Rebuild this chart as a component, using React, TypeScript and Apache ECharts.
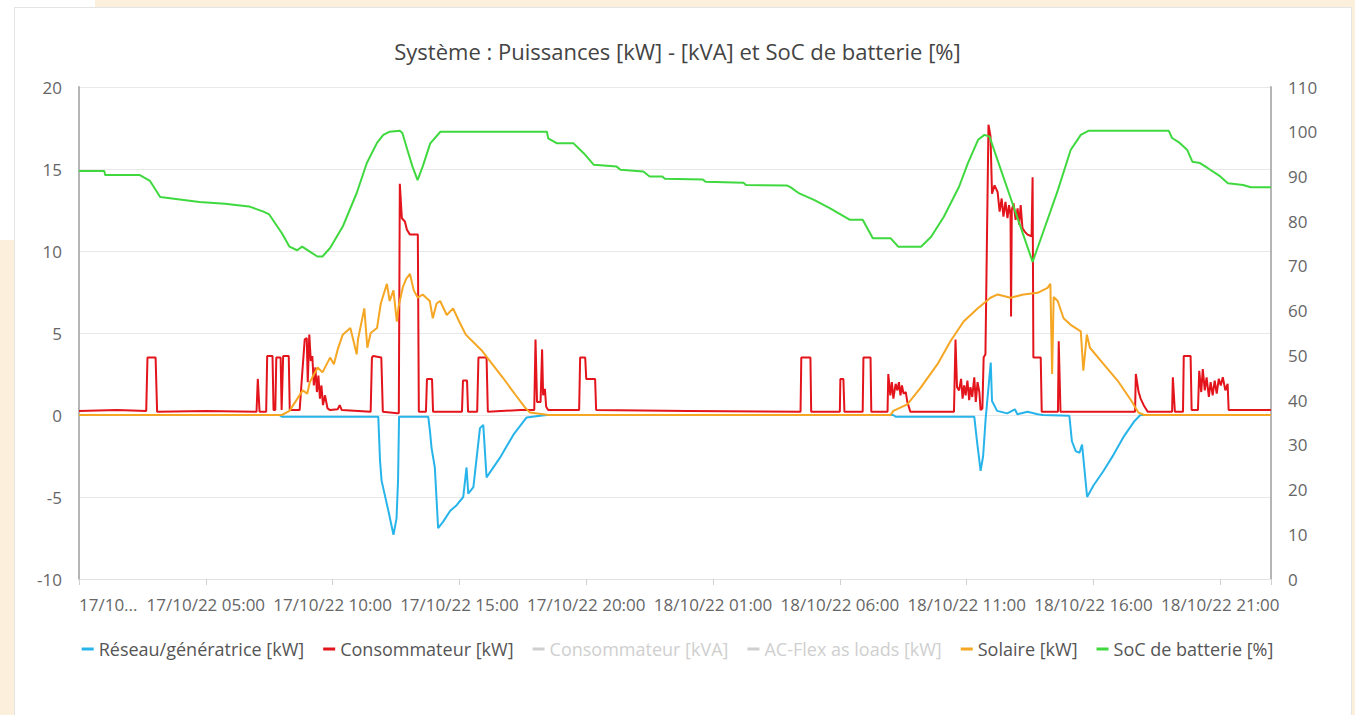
import React, { useEffect, useRef } from "react";
import * as echarts from "echarts";

const titleText = "Système : Puissances [kW] - [kVA] et SoC de batterie [%]";

const xTickLabels = [
  "17/10...",
  "17/10/22 05:00",
  "17/10/22 10:00",
  "17/10/22 15:00",
  "17/10/22 20:00",
  "18/10/22 01:00",
  "18/10/22 06:00",
  "18/10/22 11:00",
  "18/10/22 16:00",
  "18/10/22 21:00",
];

const seriesNames = [
  "Réseau/génératrice [kW]",
  "Consommateur [kW]",
  "Consommateur [kVA]",
  "AC-Flex as loads [kW]",
  "Solaire [kW]",
  "SoC de batterie [%]",
];

const seriesColors = ["#27b4ea", "#e3141b", "#9a9a9a", "#bdbdbd", "#f5a623", "#3fd93f"];

// [hours since 17/10/22 00:00, kW]
const gridPoints = [
  [0, 0], [7.9, 0], [8.0, -0.1], [11.8, -0.1],
  [11.87, -2.8], [11.93, -4.0], [12.2, -5.85], [12.4, -7.3], [12.52, -6.3], [12.58, -4.0], [12.62, -0.1],
  [13.77, -0.1], [13.84, -1.0], [13.9, -2.0], [14.03, -3.2], [14.16, -6.9], [14.36, -6.5], [14.63, -5.85],
  [14.89, -5.5], [15.15, -5.0], [15.28, -3.2], [15.35, -4.8], [15.55, -4.4], [15.81, -0.8], [15.94, -0.6],
  [16.07, -3.8], [16.6, -2.6], [17.13, -1.2], [17.65, -0.15], [18.18, -0.05], [18.45, 0],
  [32.1, 0], [32.2, -0.1], [35.3, -0.1], [35.4, -1.5], [35.55, -3.4], [35.65, -2.5], [35.75, -0.2],
  [35.95, 3.2], [36.0, 0.85], [36.2, 0.25], [36.6, 0.1], [36.9, 0.35], [37.0, 0.05], [37.4, 0.2],
  [37.8, 0.05], [38.0, 0], [39.05, -0.05], [39.15, -1.6], [39.3, -2.2], [39.45, -2.3], [39.55, -1.8],
  [39.75, -5.0], [40.0, -4.3], [40.4, -3.4], [40.8, -2.4], [41.2, -1.3], [41.6, -0.4], [41.85, 0], [47, 0],
];

const loadPoints = [
  [0, 0.25], [1.5, 0.3], [2.65, 0.25], [2.7, 3.5], [3.02, 3.5], [3.08, 0.2], [5.0, 0.25], [7.0, 0.2],
  [7.05, 2.2], [7.12, 0.2], [7.38, 0.2], [7.42, 3.6], [7.63, 3.6], [7.67, 0.3], [7.74, 0.3], [7.78, 3.5],
  [7.95, 3.5], [7.99, 0.3], [8.01, 0.3], [8.05, 3.6], [8.27, 3.6], [8.31, 0.3], [8.7, 0.3], [8.8, 2.5],
  [8.9, 4.6], [8.98, 4.7], [9.02, 2.0], [9.08, 4.9], [9.14, 3.3], [9.2, 3.6], [9.26, 1.8], [9.32, 2.9],
  [9.38, 1.4], [9.44, 2.4], [9.5, 1.0], [9.56, 1.8], [9.62, 0.6], [9.7, 1.2], [9.8, 0.4], [9.9, 0.3],
  [10.2, 0.35], [10.28, 0.6], [10.36, 0.3], [11.5, 0.2], [11.55, 3.5], [11.6, 3.6], [11.92, 3.5],
  [11.98, 0.2], [12.55, 0.1], [12.61, 0.1], [12.65, 14.1], [12.73, 12.0], [12.85, 11.8], [12.93, 11.3],
  [13.05, 11.0], [13.36, 11.0], [13.4, 0.2], [13.68, 0.2], [13.72, 2.2], [13.92, 2.2], [13.96, 0.2],
  [15.1, 0.2], [15.14, 2.1], [15.3, 2.1], [15.34, 0.2], [15.7, 0.2], [15.75, 3.5], [16.07, 3.5],
  [16.12, 0.2], [17.4, 0.3], [17.95, 0.3], [18.0, 4.6], [18.06, 0.8], [18.2, 0.8], [18.26, 4.0],
  [18.3, 1.2], [18.37, 1.6], [18.42, 0.5], [18.5, 0.3], [19.72, 0.3], [19.76, 3.5], [19.96, 3.5],
  [20.0, 2.2], [20.35, 2.2], [20.39, 0.3], [24, 0.25], [28.45, 0.2], [28.48, 3.5], [28.84, 3.5],
  [28.87, 0.2], [30.0, 0.2], [30.02, 2.2], [30.14, 2.2], [30.18, 0.2], [30.9, 0.2], [30.93, 3.5],
  [31.21, 3.5], [31.24, 0.2], [31.88, 0.2], [31.91, 2.5], [31.99, 1.2], [32.05, 2.0], [32.11, 1.0],
  [32.2, 1.9], [32.27, 1.5], [32.33, 2.0], [32.39, 1.2], [32.45, 1.8], [32.51, 1.3], [32.6, 1.4],
  [32.66, 0.8], [32.78, 0.2], [34.5, 0.2], [34.56, 4.6], [34.62, 1.7], [34.7, 1.5], [34.78, 2.2],
  [34.84, 1.0], [34.9, 1.8], [34.96, 1.2], [35.03, 2.1], [35.1, 0.9], [35.15, 1.7], [35.22, 1.1],
  [35.3, 2.3], [35.36, 0.8], [35.43, 2.0], [35.5, 1.4], [35.55, 0.3], [35.62, 0.4], [35.67, 3.5],
  [35.74, 3.7], [35.86, 17.7], [35.94, 17.0], [36.0, 13.5], [36.1, 14.0], [36.22, 13.6], [36.3, 12.4],
  [36.38, 13.2], [36.45, 12.1], [36.53, 13.0], [36.61, 12.0], [36.67, 12.8], [36.73, 12.2], [36.75, 6.0],
  [36.78, 12.5], [36.85, 12.9], [36.93, 11.9], [37.01, 12.6], [37.07, 11.6], [37.13, 12.8], [37.2, 11.4],
  [37.28, 11.2], [37.4, 11.0], [37.56, 10.9], [37.6, 14.5], [37.63, 3.5], [37.92, 3.5], [37.96, 0.2],
  [38.6, 0.2], [38.63, 4.5], [38.7, 0.2], [41.64, 0.2], [41.67, 2.5], [41.78, 1.4], [41.86, 1.0],
  [41.98, 0.6], [42.14, 0.2], [43.1, 0.2], [43.13, 2.3], [43.21, 0.2], [43.53, 0.2], [43.56, 3.6],
  [43.83, 3.6], [43.87, 0.3], [44.12, 0.3], [44.17, 2.7], [44.25, 1.4], [44.31, 2.8], [44.39, 1.5],
  [44.46, 2.3], [44.55, 1.1], [44.62, 2.0], [44.7, 1.2], [44.78, 2.1], [44.86, 1.3], [44.94, 2.2],
  [45.02, 1.8], [45.1, 2.3], [45.2, 1.5], [45.29, 1.9], [45.33, 0.3], [47, 0.3],
];

const loadKvaPoints: number[][] = [];
const acFlexPoints: number[][] = [];

const solarPoints = [
  [0, 0], [8.0, 0], [8.3, 0.25], [8.82, 1.5], [9.0, 1.3], [9.1, 2.0], [9.41, 2.9], [9.6, 2.6],
  [9.9, 3.5], [10.05, 3.1], [10.2, 4.0], [10.4, 4.9], [10.7, 5.3], [10.95, 3.7], [11.0, 4.6],
  [11.25, 6.5], [11.37, 4.1], [11.5, 5.0], [11.75, 5.3], [11.9, 6.8], [12.14, 8.0], [12.25, 6.95],
  [12.4, 7.6], [12.53, 5.7], [12.6, 6.6], [12.77, 7.8], [12.9, 8.3], [13.05, 8.6], [13.2, 7.6],
  [13.36, 7.15], [13.55, 7.35], [13.83, 6.95], [13.95, 5.9], [14.1, 6.8], [14.24, 6.95], [14.5, 6.1],
  [14.75, 6.5], [14.99, 5.7], [15.25, 4.9], [15.9, 3.9], [16.7, 2.3], [17.2, 1.25], [17.59, 0.45],
  [17.78, 0.15], [18.3, 0.05], [18.5, 0], [32.0, 0], [32.11, 0.25], [32.66, 0.65], [33.18, 1.65],
  [33.85, 3.1], [34.36, 4.5], [34.88, 5.7], [35.43, 6.5], [35.94, 7.15], [36.22, 7.35], [36.73, 7.15],
  [37.24, 7.35], [37.8, 7.45], [38.19, 7.75], [38.3, 8.0], [38.37, 2.5], [38.43, 7.2], [38.59, 6.95],
  [38.82, 5.9], [39.1, 5.5], [39.5, 5.1], [39.6, 2.7], [39.74, 4.9], [39.86, 4.1], [40.4, 3.1],
  [40.95, 2.1], [41.5, 0.85], [41.77, 0.15], [42.0, 0], [47, 0],
];

// [hours, %]
const socPoints = [
  [0, 91.2], [1.0, 91.2], [1.03, 90.3], [2.4, 90.3], [2.8, 89.0], [3.2, 85.4], [4.75, 84.3],
  [5.75, 83.9], [6.7, 83.3], [7.25, 82.2], [7.5, 81.5], [8.0, 77.3], [8.3, 74.3], [8.6, 73.5],
  [8.8, 74.3], [9.1, 73.2], [9.4, 72.1], [9.6, 72.1], [9.9, 74.0], [10.4, 78.8], [10.95, 86.3],
  [11.35, 93.0], [11.75, 97.5], [12.0, 99.3], [12.25, 100.0], [12.65, 100.2], [12.75, 99.7],
  [12.95, 95.9], [13.15, 92.2], [13.35, 89.2], [13.55, 92.2], [13.85, 97.4], [14.25, 100.0],
  [18.45, 100.0], [18.5, 98.5], [18.85, 97.4], [19.5, 97.4], [19.9, 95.2], [20.3, 92.6], [21.2, 92.2],
  [21.35, 91.5], [22.25, 91.1], [22.5, 90.0], [23.0, 90.0], [23.1, 89.5], [24.6, 89.3], [24.7, 88.8],
  [26.2, 88.6], [26.3, 88.1], [27.9, 88.0], [28.05, 87.6], [28.4, 86.2],
  [29.0, 84.7], [29.6, 82.9], [30.4, 80.3], [30.9, 80.3], [31.3, 76.2], [32.0, 76.2], [32.3, 74.3],
  [33.2, 74.3], [33.6, 76.5], [34.1, 81.0], [34.7, 87.7], [35.05, 93.0], [35.45, 98.2], [35.7, 99.3],
  [35.9, 98.9], [37.6, 70.9], [38.0, 77.3], [38.6, 87.0], [39.1, 95.9], [39.5, 99.3], [39.8, 100.2],
  [42.97, 100.2], [43.1, 98.6], [43.4, 97.5], [43.7, 95.9], [43.9, 93.3], [44.2, 93.0], [44.5, 91.9],
  [45.0, 90.0], [45.3, 88.5], [45.9, 88.1], [46.2, 87.6], [47.0, 87.6],
];

const seriesData = [gridPoints, loadPoints, loadKvaPoints, acFlexPoints, solarPoints, socPoints];

const FONT = "'Open Sans', 'Noto Sans', sans-serif";

export default function App() {
  const ref = useRef<HTMLDivElement>(null);

  useEffect(() => {
    if (!ref.current) return;
    const chart = echarts.init(ref.current, undefined, { renderer: "svg" });
    const option = {
      animation: false,
      backgroundColor: "#ffffff",
      textStyle: { fontFamily: FONT },
      graphic: [
        { type: "rect", silent: true, z: -10, shape: { x: 95, y: 0, width: 1260, height: 7 }, style: { fill: "#fcefdc" } },
        { type: "rect", silent: true, z: -10, shape: { x: 1352, y: 0, width: 3, height: 715 }, style: { fill: "#fcefdc" } },
        { type: "rect", silent: true, z: -10, shape: { x: 0, y: 240, width: 14, height: 475 }, style: { fill: "#fcefdc" } },
        { type: "rect", silent: true, z: -9, shape: { x: 14.5, y: 7.5, width: 1337, height: 720 }, style: { fill: "none", stroke: "#e4e4e4", lineWidth: 1 } },
      ],
      title: {
        text: titleText,
        left: "center",
        top: 35,
        textStyle: { fontFamily: FONT, fontSize: 22, fontWeight: "normal", color: "#444" },
      },
      legend: {
        top: 635,
        left: "center",
        icon: "rect",
        itemWidth: 12,
        itemHeight: 3,
        itemGap: 19,
        data: seriesNames,
        selected: { "Consommateur [kVA]": false, "AC-Flex as loads [kW]": false },
        textStyle: { fontFamily: FONT, fontSize: 18, color: "#555" },
        inactiveColor: "#cfcfcf",
      },
      grid: { left: 79, right: 84, top: 87, bottom: 136, containLabel: false },
      xAxis: {
        type: "value",
        min: 0,
        max: 47,
        interval: 5,
        axisLine: { show: true, onZero: false, lineStyle: { color: "#e2e2e2", width: 1 } },
        axisTick: { show: true, length: 6, lineStyle: { color: "#d0d0d0" } },
        splitLine: { show: false },
        axisLabel: {
          fontFamily: FONT,
          fontSize: 17,
          color: "#666",
          margin: 17,
          alignMinLabel: "left",
          formatter: (v: number) => {
            if (v % 5 !== 0) return "";
            return xTickLabels[v / 5] ?? "";
          },
        },
      },
      yAxis: [
        {
          type: "value",
          min: -10,
          max: 20,
          interval: 5,
          axisLine: { show: true, lineStyle: { color: "#b5b5b5", width: 2 } },
          axisTick: { show: false },
          splitLine: { show: true, lineStyle: { color: "#e8e8e8", width: 1 } },
          axisLabel: { fontFamily: FONT, fontSize: 17, color: "#666", margin: 17 },
        },
        {
          type: "value",
          min: 0,
          max: 110,
          interval: 10,
          position: "right",
          axisLine: { show: true, lineStyle: { color: "#b5b5b5", width: 2 } },
          axisTick: { show: false },
          splitLine: { show: false },
          axisLabel: { fontFamily: FONT, fontSize: 17, color: "#666", margin: 17 },
        },
      ],
      series: seriesNames.map((name, i) => ({
        name,
        type: "line",
        yAxisIndex: i === 5 ? 1 : 0,
        data: seriesData[i],
        showSymbol: false,
        symbol: "none",
        color: seriesColors[i],
        lineStyle: { color: seriesColors[i], width: 2 },
        z: 2 + i,
      })),
    };
    chart.setOption(option as any);
    return () => chart.dispose();
  }, []);

  return (
    <div
      ref={ref}
      style={{ position: "fixed", left: 0, top: 0, width: 1355, height: 715, background: "#fff" }}
    />
  );
}
